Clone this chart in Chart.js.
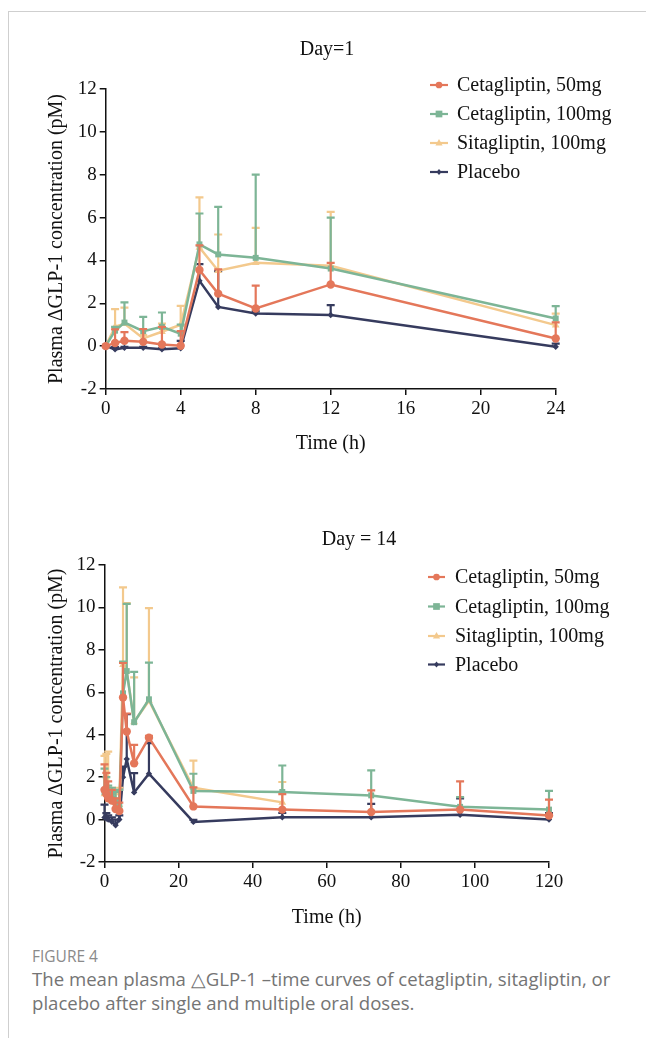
<!DOCTYPE html>
<html>
<head>
<meta charset="utf-8">
<script src="https://cdn.jsdelivr.net/npm/chart.js@4.4.1/dist/chart.umd.min.js"></script>
<style>
  html, body { margin: 0; padding: 0; background: #fff; }
  body { width: 646px; height: 1038px; position: relative; overflow: hidden; }
  .frame-top { position: absolute; left: 8px; top: 11px; width: 640px; height: 1px; background: #cfcfcf; }
  .frame-left { position: absolute; left: 8px; top: 11px; width: 1px; height: 1030px; background: #cfcfcf; }
  .chartbox { position: absolute; left: 0; width: 646px; height: 470px; }
  #box1 { top: 0; }
  #box2 { top: 470px; }
  .figlabel { position: absolute; left: 32px; top: 945px; font-family: "Open Sans", sans-serif; font-size: 15.5px; color: #8a8a8a; }
  .caption { position: absolute; left: 32px; top: 967px; width: 600px; font-family: "Open Sans", sans-serif; font-size: 18.6px; line-height: 24px; color: #747474; }
</style>
</head>
<body>
<div class="frame-top"></div>
<div class="frame-left"></div>
<div class="chartbox" id="box1"><canvas id="c1" width="646" height="470"></canvas></div>
<div class="chartbox" id="box2"><canvas id="c2" width="646" height="470"></canvas></div>
<div class="figlabel">FIGURE 4</div>
<div class="caption">The mean plasma △GLP-1 –time curves of cetagliptin, sitagliptin, or placebo after single and multiple oral doses.</div>
<script>
// ---------------- DATA ----------------
const seriesNames = ["Cetagliptin, 50mg", "Cetagliptin, 100mg", "Sitagliptin, 100mg", "Placebo"];

// Day 1
const day1Times = [0, 0.5, 1, 2, 3, 4, 5, 6, 8, 12, 24];
const day1Cet50 = [0, 0.15, 0.25, 0.2, 0.08, 0.02, 3.55, 2.45, 1.76, 2.88, 0.36];
const day1Cet50SD = [0, 0.63, 0.4, 0.6, 0.82, 0.68, 1.15, 1.13, 1.06, 1.01, 0.75];
const day1Cet100 = [0, 0.72, 1.1, 0.7, 0.9, 0.58, 4.75, 4.28, 4.12, 3.62, 1.29];
const day1Cet100SD = [0, 0.18, 0.94, 0.67, 0.67, 0.42, 1.44, 2.22, 3.88, 2.38, 0.58];
const day1Sita = [0, 0.9, 1.05, 0.36, 0.67, 1.0, 4.6, 3.52, 3.89, 3.75, 0.98];
const day1SitaSD = [0, 0.83, 0.75, 0.15, 0.38, 0.88, 2.34, 1.69, 1.63, 2.52, 0.54];
const day1Placebo = [0, -0.15, -0.08, -0.08, -0.15, -0.1, 3.05, 1.83, 1.52, 1.45, -0.03];
const day1PlaceboSD = [0, 0.1, 0.05, 0.05, 0.05, 0.35, 0.78, 1.67, 0.1, 0.46, 0.15];

// Day 14
const day14Times = [0, 0.5, 1, 2, 3, 4, 5, 6, 8, 12, 24, 48, 72, 96, 120];
const day14Cet50 = [1.4, 1.2, 1.0, 0.9, 0.5, 0.4, 5.75, 4.15, 2.65, 3.86, 0.62, 0.47, 0.36, 0.47, 0.19];
const day14Cet50SD = [1.2, 1.0, 0.8, 0.5, 0.5, 0.4, 1.63, 0.85, 0.87, 0.09, 0.9, 0.73, 1.02, 1.33, 0.75];
const day14Cet100 = [1.3, 1.5, 1.2, 1.3, 0.9, 0.6, 5.95, 7.0, 4.59, 5.67, 1.35, 1.3, 1.14, 0.6, 0.47];
const day14Cet100SD = [1.1, 0.5, 0.4, 0.2, 0.4, 0.8, 1.5, 3.17, 2.37, 1.73, 0.81, 1.25, 1.18, 0.46, 0.88];
const day14Sita = [1.2, 1.6, 1.3, 1.1, 0.8, 0.7, 7.3, 7.0, 4.6, 5.6, 1.5, 0.81, null, null, null];
const day14SitaSD = [1.8, 1.5, 1.9, 0.4, 0.4, 0.8, 3.65, 3.2, 2.1, 4.37, 1.28, 0.96, null, null, null];
const day14Placebo = [0.1, 0.05, 0.0, -0.1, -0.27, 0.0, 2.0, 2.85, 1.28, 2.16, -0.11, 0.11, 0.11, 0.23, 0.0];
const day14PlaceboSD = [0.6, 0.25, 0.2, 0.2, 0.27, 0.2, 0.5, 2.12, 0.91, 1.44, 0.1, 0.2, 0.63, 0.77, 0.3];

const yTicks = [-2, 0, 2, 4, 6, 8, 10, 12];
const day1XTicks = [0, 4, 8, 12, 16, 20, 24];
const day14XTicks = [0, 20, 40, 60, 80, 100, 120];

// ---------------- STYLE ----------------
const COLORS = ["#E4775A", "#7DB596", "#F3C98D", "#363B5E"];
const MARKERS = ["circle", "rect", "triangle", "rectRot"];
const MARKER_R = [4.2, 4.2, 4.5, 3.2];
const SERIF = "'Liberation Serif', 'Times New Roman', serif";

function drawMarker(ctx, style, x, y, r, color) {
  ctx.save();
  ctx.fillStyle = color;
  ctx.beginPath();
  if (style === "circle") {
    ctx.arc(x, y, r, 0, Math.PI * 2);
  } else if (style === "rect") {
    ctx.rect(x - r, y - r, 2 * r, 2 * r);
  } else if (style === "triangle") {
    ctx.moveTo(x, y - r * 1.1);
    ctx.lineTo(x + r, y + r * 0.7);
    ctx.lineTo(x - r, y + r * 0.7);
    ctx.closePath();
  } else {
    ctx.moveTo(x, y - r * 1.2);
    ctx.lineTo(x + r, y);
    ctx.lineTo(x, y + r * 1.2);
    ctx.lineTo(x - r, y);
    ctx.closePath();
  }
  ctx.fill();
  ctx.restore();
}

const errorBarPlugin = {
  id: "errorBars",
  beforeDatasetDraw(chart, args) {
    const ds = chart.data.datasets[args.index];
    if (!ds.sd) return;
    const xs = chart.scales.x, ys = chart.scales.y;
    const ctx = chart.ctx;
    ctx.save();
    ctx.strokeStyle = ds.borderColor;
    ctx.lineWidth = 2.2;
    ds.data.forEach((p, i) => {
      const sd = ds.sd[i];
      if (p.y === null || sd === null || sd === undefined || sd <= 0) return;
      const px = xs.getPixelForValue(p.x);
      const y0 = ys.getPixelForValue(p.y);
      const y1 = ys.getPixelForValue(p.y + sd);
      ctx.beginPath();
      ctx.moveTo(px, y0);
      ctx.lineTo(px, y1);
      ctx.moveTo(px - 4, y1);
      ctx.lineTo(px + 4, y1);
      ctx.stroke();
    });
    ctx.restore();
  }
};

const legendPlugin = {
  id: "customLegend",
  afterDraw(chart, args, opts) {
    const ctx = chart.ctx;
    ctx.save();
    chart.data.datasets.forEach((ds, i) => {
      const y = opts.rows[i];
      ctx.strokeStyle = ds.borderColor;
      ctx.lineWidth = 2.2;
      ctx.beginPath();
      ctx.moveTo(opts.lineX0, y);
      ctx.lineTo(opts.lineX1, y);
      ctx.stroke();
      drawMarker(ctx, MARKERS[i], (opts.lineX0 + opts.lineX1) / 2, y, MARKER_R[i] * 0.8, ds.borderColor);
      ctx.fillStyle = "#111";
      ctx.font = "20px " + SERIF;
      ctx.textBaseline = "middle";
      ctx.textAlign = "left";
      ctx.fillText(ds.label, opts.textX, y + 1);
    });
    // panel title
    ctx.font = "20px " + SERIF;
    ctx.textAlign = "center";
    ctx.textBaseline = "middle";
    ctx.fillStyle = "#111";
    ctx.fillText(opts.title, opts.titleX, opts.titleY);
    ctx.restore();
  }
};

function makeDatasets(times, series, sds) {
  return series.map((vals, i) => ({
    label: seriesNames[i],
    data: times.map((t, k) => ({ x: t, y: vals[k] })),
    sd: sds[i],
    borderColor: COLORS[i],
    backgroundColor: COLORS[i],
    borderWidth: 2.5,
    pointStyle: MARKERS[i],
    pointRadius: MARKER_R[i],
    pointHoverRadius: MARKER_R[i],
    pointBorderWidth: 0,
    spanGaps: false,
    tension: 0,
    clip: false
  }));
}

function makeChart(canvasId, cfg) {
  return new Chart(document.getElementById(canvasId), {
    type: "line",
    data: { datasets: makeDatasets(cfg.times, cfg.series, cfg.sds) },
    plugins: [errorBarPlugin, legendPlugin],
    options: {
      responsive: false,
      animation: false,
      layout: { padding: { left: 0, right: cfg.padRight, top: cfg.padTop, bottom: 0 } },
      plugins: {
        legend: { display: false },
        tooltip: { enabled: false },
        title: { display: false },
        customLegend: cfg.legend
      },
      scales: {
        x: {
          type: "linear",
          min: cfg.xTicks[0],
          max: cfg.xTicks[cfg.xTicks.length - 1],
          afterBuildTicks(scale) { scale.ticks = cfg.xTicks.map(v => ({ value: v })); },
          afterFit(scale) { scale.height = cfg.xHeight; },
          grid: { display: true, drawOnChartArea: false, drawTicks: true, tickLength: 6, color: "#111", lineWidth: 1.5 },
          border: { display: true, color: "#111", width: 1.5 },
          ticks: { color: "#111", font: { family: SERIF, size: 19 }, padding: 3, maxRotation: 0, autoSkip: false },
          title: { display: true, text: "Time (h)", color: "#111", font: { family: SERIF, size: 20, lineHeight: 1.2 }, padding: { top: 0, bottom: cfg.xTitleBottom } }
        },
        y: {
          type: "linear",
          min: -2,
          max: 12,
          afterBuildTicks(scale) { scale.ticks = yTicks.map(v => ({ value: v })); },
          afterFit(scale) { scale.width = cfg.yWidth; },
          grid: { display: true, drawOnChartArea: false, drawTicks: true, tickLength: 6, color: "#111", lineWidth: 1.5 },
          border: { display: true, color: "#111", width: 1.5 },
          ticks: { color: "#111", font: { family: SERIF, size: 19 }, padding: 3, autoSkip: false, callback: v => String(v) },
          title: { display: true, text: "Plasma \u0394GLP-1 concentration (pM)", color: "#111", font: { family: SERIF, size: 20, lineHeight: 1.2 }, padding: { top: 45, bottom: 0 } }
        }
      }
    }
  });
}

makeChart("c1", {
  times: day1Times,
  series: [day1Cet50, day1Cet100, day1Sita, day1Placebo],
  sds: [day1Cet50SD, day1Cet100SD, day1SitaSD, day1PlaceboSD],
  xTicks: day1XTicks,
  padRight: 90.3,
  padTop: 89,
  xHeight: 81,
  xTitleBottom: 14,
  yWidth: 105.7,
  legend: { lineX0: 430, lineX1: 448, textX: 457, rows: [85, 114, 143, 172], title: "Day=1", titleX: 327, titleY: 50 }
});

makeChart("c2", {
  times: day14Times,
  series: [day14Cet50, day14Cet100, day14Sita, day14Placebo],
  sds: [day14Cet50SD, day14Cet100SD, day14SitaSD, day14PlaceboSD],
  xTicks: day14XTicks,
  padRight: 97,
  padTop: 95,
  xHeight: 78,
  xTitleBottom: 10,
  yWidth: 104.5,
  legend: { lineX0: 428, lineX1: 445, textX: 455, rows: [107, 136.5, 166, 194.5], title: "Day = 14", titleX: 359, titleY: 70 }
});
</script>
</body>
</html>
